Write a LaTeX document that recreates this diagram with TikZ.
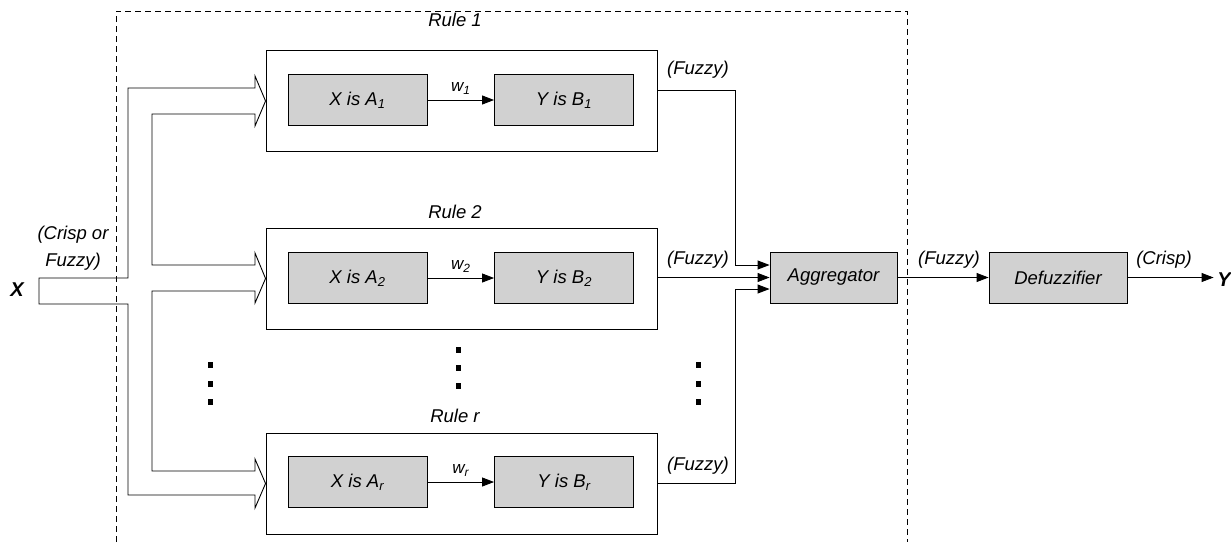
\documentclass[tikz,border=0pt]{standalone}
\usepackage{fontspec}
\setmainfont{Liberation Sans}
\usetikzlibrary{arrows.meta}
\begin{document}
\begin{tikzpicture}[x=1pt,y=-1pt,line width=0.9pt,
  every node/.style={font=\itshape\fontsize{18.5}{27}\selectfont},
  rulebox/.style={draw,minimum width=391pt,minimum height=101pt,inner sep=0pt},
  shaded/.style={draw,fill=black!18,minimum width=139pt,minimum height=51pt,inner sep=0pt},
  wlabel/.style={font=\itshape\fontsize{17}{18}\selectfont,inner sep=1pt},
  tip/.style={-{Triangle[length=12pt,width=9pt]}},
  dot/.style={fill=black}]
\useasboundingbox (0,0) rectangle (1231,542);

% system boundary
\draw[dashed,dash pattern=on 6pt off 4pt,line width=0.7pt] (116,542) -- (116,11) -- (907,11) -- (907,542);

% rule boxes
\node[rulebox] (r1) at (461.5,101) {};
\node[rulebox] (r2) at (461.5,278.5) {};
\node[rulebox] (rr) at (461.5,483.5) {};
\node (l1) at (455,20) {Rule 1};
\node (l2) at (455,212) {Rule 2};
\node (lr) at (455,416) {Rule r};

% antecedent / consequent blocks
\node[shaded] (a1) at (357.5,100) {X is A\textsubscript{1}};
\node[shaded] (b1) at (564,100) {Y is B\textsubscript{1}};
\node[shaded] (a2) at (357.5,278) {X is A\textsubscript{2}};
\node[shaded] (b2) at (564,278) {Y is B\textsubscript{2}};
\node[shaded] (ar) at (357.5,482) {X is A\textsubscript{r}};
\node[shaded] (br) at (564,482) {Y is B\textsubscript{r}};
\draw[tip] (a1) -- (b1) node[wlabel,midway,above=4pt] {w\textsubscript{1}};
\draw[tip] (a2) -- (b2) node[wlabel,midway,above=4pt] {w\textsubscript{2}};
\draw[tip] (ar) -- (br) node[wlabel,midway,above=4pt] {w\textsubscript{r}};

% aggregation and defuzzification
\node[shaded,minimum width=127pt] (agg) at (833.5,277.5) {Aggregator};
\node[shaded,minimum width=138pt] (dfz) at (1058,277.5) {Defuzzifier};
\node[font=\bfseries\itshape\fontsize{20}{22}\selectfont] (xin) at (17,290) {X};
\node[font=\bfseries\itshape\fontsize{20}{22}\selectfont] (yout) at (1224,280) {Y};

\draw[tip] ([yshift=11pt]r1.east) -- ++(78,0) |- ([yshift=12.5pt]agg.west);
\draw[tip] (r2.east |- agg.west) -- (agg.west);
\draw[tip] (rr.east) -- ++(78,0) |- ([yshift=-11.5pt]agg.west);
\draw[tip] (agg) -- (dfz);
\draw[tip] (dfz.east) -- (yout.west |- dfz.east);

\node (f1) at (698,70) {(Fuzzy)};
\node (f2) at (698,260) {(Fuzzy)};
\node (fr) at (698,466) {(Fuzzy)};
\node (f4) at (949,260) {(Fuzzy)};
\node (cr) at (1164,260) {(Crisp)};
\node[align=center] (cf) at (73,248) {(Crisp or\\Fuzzy)};

% broad input arrow branching to the rules
\draw (39,278) -- (128,278) -- (128,88) -- (255,88) -- (255,76) -- (r1.west)
  -- (255,126) -- (255,114) -- (152,114) -- (152,265) -- (255,265) -- (255,253)
  -- (r2.west) -- (255,303) -- (255,291) -- (152,291) -- (152,471) -- (255,471)
  -- (255,459) -- (rr.west) -- (255,508) -- (255,495) -- (128,495) -- (128,304)
  -- (39,304) -- cycle;

% ellipsis dots
\foreach \y in {365,384,402} {
  \fill[dot] (207.5,\y-3) rectangle (212.5,\y+3);
  \fill[dot] (695.5,\y-3) rectangle (700.5,\y+3);
}
\foreach \y in {350,368,386} {
  \fill[dot] (455.5,\y-3) rectangle (460.5,\y+3);
}
\end{tikzpicture}
\end{document}
